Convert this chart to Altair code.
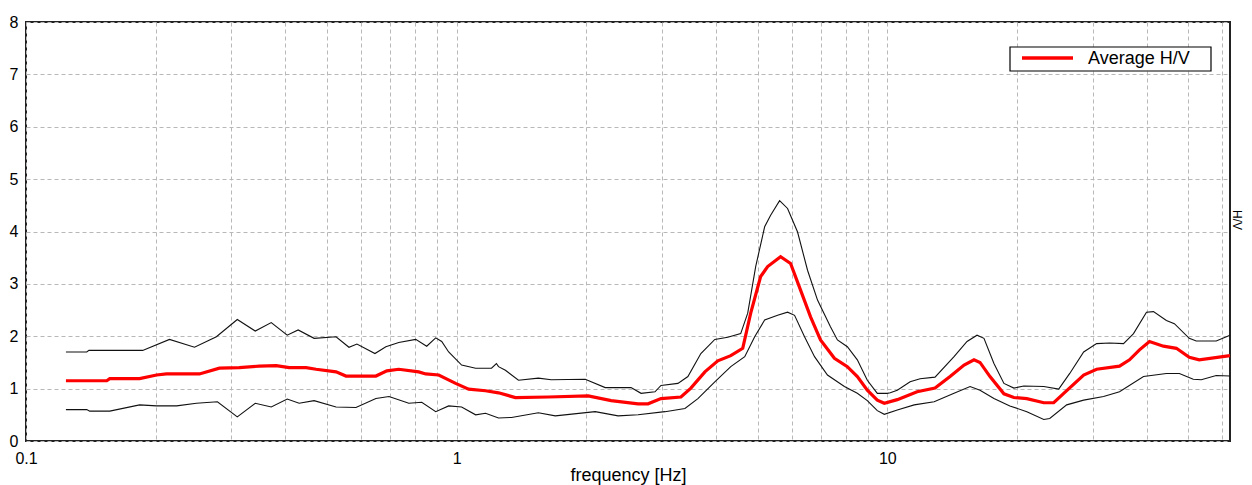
import altair as alt
import pandas as pd

# ---- data ----
upper_f = [0.1238, 0.1384, 0.140, 0.1866, 0.2154, 0.2462, 0.2768, 0.3095, 0.3407, 0.3711,
           0.4042, 0.4285, 0.4667, 0.5248, 0.5623, 0.5868, 0.6461, 0.6850, 0.7338, 0.8035,
           0.8521, 0.8942, 0.9233, 0.9583, 1.027, 1.107, 1.205, 1.237, 1.251, 1.298,
           1.392, 1.548, 1.659, 1.989, 2.213, 2.541, 2.681, 2.888, 2.982, 3.265,
           3.444, 3.691, 3.977, 4.262, 4.567, 4.742, 4.948, 5.191, 5.360, 5.623,
           5.868, 6.190, 6.529, 6.887, 7.380, 7.661, 8.078, 8.521, 8.988, 9.482,
           10.0, 10.16, 10.55, 11.30, 11.92, 12.91, 14.29, 15.32, 16.16, 16.77,
           17.69, 18.66, 19.68, 20.75, 23.09, 25.01, 26.53, 28.58, 30.63, 32.83,
           35.37, 37.31, 39.99, 41.51, 44.48, 46.42, 50.27, 52.18, 58.06, 62.5]
upper_v = [1.70, 1.70, 1.73, 1.73, 1.94, 1.79, 1.99, 2.32, 2.10, 2.26,
           2.02, 2.12, 1.96, 1.99, 1.79, 1.85, 1.67, 1.80, 1.88, 1.94,
           1.81, 1.97, 1.90, 1.70, 1.45, 1.39, 1.39, 1.48, 1.42, 1.35,
           1.16, 1.20, 1.17, 1.18, 1.02, 1.02, 0.91, 0.94, 1.06, 1.10,
           1.23, 1.67, 1.94, 1.98, 2.05, 2.44, 3.33, 4.09, 4.31, 4.59,
           4.44, 3.99, 3.26, 2.69, 2.18, 1.93, 1.80, 1.55, 1.16, 0.91,
           0.91, 0.92, 0.97, 1.13, 1.19, 1.22, 1.61, 1.90, 2.02, 1.96,
           1.48, 1.10, 1.01, 1.05, 1.04, 0.99, 1.29, 1.70, 1.86, 1.87,
           1.86, 2.05, 2.46, 2.47, 2.30, 2.24, 1.96, 1.91, 1.91, 2.02]

mean_f = [0.1238, 0.1540, 0.1565, 0.1836, 0.2010, 0.2120, 0.2528, 0.2813, 0.3128, 0.3481,
          0.3811, 0.4085, 0.4472, 0.4717, 0.5248, 0.5534, 0.6494, 0.6887, 0.7338, 0.8166,
          0.8476, 0.9086, 0.9947, 1.066, 1.167, 1.251, 1.369, 1.633, 2.021, 2.285,
          2.638, 2.783, 2.982, 3.318, 3.499, 3.771, 4.041, 4.331, 4.617, 4.818,
          5.081, 5.275, 5.653, 5.963, 6.290, 6.635, 6.998, 7.539, 8.078, 8.521,
          8.988, 9.482, 9.842, 10.55, 11.73, 12.91, 13.99, 15.08, 15.90, 16.42,
          17.32, 18.66, 19.68, 21.09, 23.09, 24.35, 25.69, 28.58, 30.63, 34.62,
          36.52, 38.52, 40.63, 43.78, 46.92, 50.27, 53.02, 62.5]
mean_v = [1.15, 1.15, 1.19, 1.19, 1.26, 1.28, 1.28, 1.39, 1.40, 1.43,
          1.44, 1.40, 1.40, 1.37, 1.32, 1.24, 1.24, 1.34, 1.37, 1.32,
          1.28, 1.26, 1.10, 0.99, 0.96, 0.92, 0.83, 0.84, 0.86, 0.77,
          0.71, 0.71, 0.81, 0.84, 1.01, 1.32, 1.53, 1.63, 1.77, 2.44,
          3.14, 3.33, 3.52, 3.39, 2.88, 2.37, 1.93, 1.58, 1.42, 1.23,
          0.97, 0.78, 0.72, 0.79, 0.94, 1.01, 1.23, 1.45, 1.55, 1.50,
          1.23, 0.90, 0.83, 0.81, 0.73, 0.73, 0.91, 1.26, 1.37, 1.43,
          1.55, 1.74, 1.90, 1.81, 1.77, 1.60, 1.55, 1.63]

lower_f = [0.1238, 0.1384, 0.1406, 0.1565, 0.1836, 0.2010, 0.2237, 0.2488, 0.2783, 0.3095,
           0.3407, 0.3711, 0.4042, 0.4308, 0.4667, 0.5248, 0.5837, 0.6494, 0.6966, 0.7743,
           0.8298, 0.8942, 0.9583, 1.027, 1.107, 1.167, 1.251, 1.341, 1.548, 1.695,
           2.098, 2.371, 2.638, 3.047, 3.390, 3.633, 3.977, 4.331, 4.667, 4.922,
           5.191, 5.564, 5.868, 6.092, 6.425, 6.778, 7.263, 7.952, 8.521, 8.988,
           9.482, 9.842, 10.55, 11.55, 12.85, 14.29, 15.57, 16.42, 17.69, 19.26,
           21.09, 23.09, 23.84, 26.10, 28.58, 31.79, 34.62, 39.36, 44.48, 47.68,
           51.35, 53.60, 58.06, 62.5]
lower_v = [0.60, 0.60, 0.57, 0.57, 0.69, 0.67, 0.67, 0.72, 0.75, 0.46,
           0.72, 0.65, 0.80, 0.72, 0.77, 0.65, 0.64, 0.81, 0.85, 0.72,
           0.74, 0.56, 0.67, 0.65, 0.50, 0.53, 0.44, 0.45, 0.54, 0.48,
           0.56, 0.48, 0.50, 0.56, 0.62, 0.81, 1.13, 1.42, 1.61, 1.99,
           2.31, 2.40, 2.46, 2.40, 1.99, 1.61, 1.26, 1.04, 0.91, 0.77,
           0.58, 0.51, 0.59, 0.69, 0.75, 0.91, 1.04, 0.97, 0.81, 0.67,
           0.56, 0.41, 0.43, 0.69, 0.78, 0.85, 0.94, 1.23, 1.29, 1.29,
           1.18, 1.17, 1.25, 1.24]

grid_x = [0.1, 0.2, 0.3, 0.4, 0.5, 0.6, 0.7, 0.8, 0.9,
          1, 2, 3, 4, 5, 6, 7, 8, 9,
          10, 20, 30, 40, 50, 60]
y_ticks = [0, 1, 2, 3, 4, 5, 6, 7, 8]
legend_label = "Average H/V"
x_title = "frequency [Hz]"
right_title = "H/V"

FONT = "Liberation Sans"

bands = pd.DataFrame({
    "freq": upper_f + lower_f,
    "value": upper_v + lower_v,
    "series": ["upper"] * len(upper_f) + ["lower"] * len(lower_f),
})
mean_df = pd.DataFrame({"freq": mean_f, "value": mean_v})

x_enc = alt.X(
    "freq:Q",
    scale=alt.Scale(type="log", domain=[0.1, 62.5], nice=False),
    axis=alt.Axis(
        values=grid_x,
        labelExpr="datum.value == 0.1 ? '0.1' : (datum.value == 1 ? '1' : (datum.value == 10 ? '10' : ''))",
        grid=True, gridDash=[4, 3], gridColor="#b8b8b8", gridWidth=1,
        ticks=False, domain=False,
        labelFont=FONT, labelFontSize=16, labelColor="#000", labelPadding=9,
        labelOverlap=False, labelFlush=False, labelBound=False,
        title=x_title, titleFont=FONT, titleFontSize=18, titleFontWeight="normal",
        titleColor="#000", titlePadding=0,
    ),
)
y_enc = alt.Y(
    "value:Q",
    scale=alt.Scale(domain=[0, 8], nice=False),
    axis=alt.Axis(
        values=y_ticks, grid=True, gridDash=[4, 3], gridColor="#b8b8b8", gridWidth=1,
        ticks=False, domain=False,
        labelFont=FONT, labelFontSize=16, labelColor="#000", labelPadding=8,
        title=None,
    ),
)

band_lines = alt.Chart(bands).mark_line(color="#111", strokeWidth=1.1).encode(
    x=x_enc, y=y_enc, detail="series:N"
)
mean_line = alt.Chart(mean_df).mark_line(color="#ff0000", strokeWidth=3.2).encode(
    x=x_enc, y=y_enc
)

one = pd.DataFrame({"t": [legend_label]})
legend_box = alt.Chart(one).mark_rect(fill="white", stroke="#000", strokeWidth=1.2).encode(
    x=alt.value(984), x2=alt.value(1185), y=alt.value(25), y2=alt.value(49)
)
legend_sym = alt.Chart(one).mark_rule(color="#ff0000", strokeWidth=3.5).encode(
    x=alt.value(996), x2=alt.value(1047), y=alt.value(36)
)
legend_txt = alt.Chart(one).mark_text(
    align="left", baseline="middle", font=FONT, fontSize=18, color="#000"
).encode(x=alt.value(1062), y=alt.value(37), text="t:N")

right_lbl = alt.Chart(pd.DataFrame({"t": [right_title]})).mark_text(
    align="center", baseline="middle", font=FONT, fontSize=12, color="#000", angle=90
).encode(x=alt.value(1211), y=alt.value(198), text="t:N")

chart = alt.layer(
    band_lines, mean_line, legend_box, legend_sym, legend_txt, right_lbl
).properties(
    width=1204, height=419,
    autosize=alt.AutoSizeParams(type="none"),
    padding={"left": 18, "top": 14, "right": 14, "bottom": 44},
    background="white",
).configure_view(stroke="#222", strokeWidth=2)

chart.save("out.html", embed_options={"renderer": "svg", "actions": False})
